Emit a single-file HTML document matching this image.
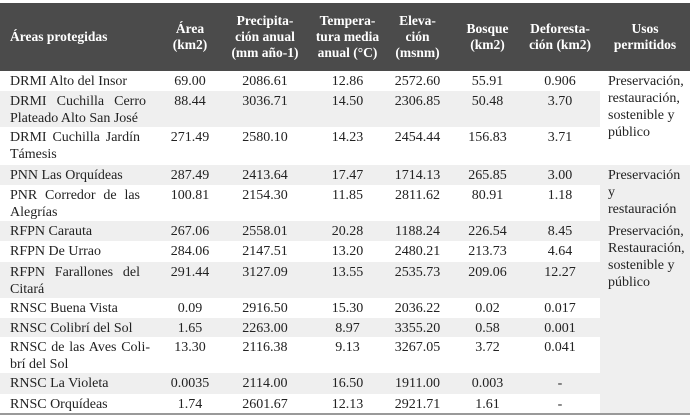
<!DOCTYPE html>
<html><head><meta charset="utf-8"><style>
body{margin:0;background:#fff;width:698px;height:416px;overflow:hidden;font-family:"Liberation Serif",serif;color:#222}
table{position:absolute;left:0;top:3px;border-collapse:collapse;table-layout:fixed;width:690px;font-size:14px;line-height:17px}
th{background:#4b4b4b;color:#fff;font-family:"Liberation Serif",serif;font-weight:bold;font-size:13.5px;line-height:16px;height:68px;padding:0;text-align:center;vertical-align:middle;white-space:nowrap}
th:first-child{text-align:left;padding-left:10px}
td{vertical-align:top;padding:2px 3px 0 3px;text-align:center;overflow:hidden}
td:first-child{text-align:left;padding-left:10px;padding-right:3px;white-space:nowrap}
.j{display:block;text-align:justify;text-align-last:justify;white-space:normal}
td.u{text-align:left;padding-left:8px;line-height:17px;white-space:nowrap}
.g td{background:#efefef}
.w td{background:#fff}
td.gu{background:#efefef !important}
td.wu{background:#fff !important}
tbody{border-bottom:2px solid #999}
</style></head><body>
<table>
<colgroup><col style="width:165px"><col style="width:50px"><col style="width:100px"><col style="width:65px"><col style="width:75px"><col style="width:65px"><col style="width:80px"><col style="width:90px"></colgroup>
<thead><tr><th>Áreas protegidas</th><th>Área<br>(km2)</th><th>Precipita-<br>ción anual<br>(mm año-1)</th><th>Tempera-<br>tura media<br>anual (°C)</th><th>Eleva-<br>ción<br>(msnm)</th><th>Bosque<br>(km2)</th><th>Deforesta-<br>ción (km2)</th><th>Usos<br>permitidos</th></tr></thead>
<tbody>
<tr class="w" style="height:20px"><td>DRMI Alto del Insor</td><td>69.00</td><td>2086.61</td><td>12.86</td><td>2572.60</td><td>55.91</td><td>0.906</td><td class="u wu" rowspan="3">Preservación,<br>restauración,<br>sostenible y<br>público</td></tr>
<tr class="g" style="height:34px"><td><span class="j" style="width:136px">DRMI Cuchilla Cerro</span>Plateado Alto San José</td><td>88.44</td><td>3036.71</td><td>14.50</td><td>2306.85</td><td>50.48</td><td>3.70</td></tr>
<tr class="w" style="height:38px"><td><span class="j" style="width:130px">DRMI Cuchilla Jardín</span>Támesis</td><td>271.49</td><td>2580.10</td><td>14.23</td><td>2454.44</td><td>156.83</td><td>3.71</td></tr>
<tr class="g" style="height:20px"><td>PNN Las Orquídeas</td><td>287.49</td><td>2413.64</td><td>17.47</td><td>1714.13</td><td>265.85</td><td>3.00</td><td class="u gu" rowspan="2">Preservación<br>y<br>restauración</td></tr>
<tr class="w" style="height:35px"><td><span class="j" style="width:130px">PNR Corredor de las</span>Alegrías</td><td>100.81</td><td>2154.30</td><td>11.85</td><td>2811.62</td><td>80.91</td><td>1.18</td></tr>
<tr class="g" style="height:20px"><td>RFPN Carauta</td><td>267.06</td><td>2558.01</td><td>20.28</td><td>1188.24</td><td>226.54</td><td>8.45</td><td class="u gu" rowspan="8">Preservación,<br>Restauración,<br>sostenible y<br>público</td></tr>
<tr class="w" style="height:21px"><td>RFPN De Urrao</td><td>284.06</td><td>2147.51</td><td>13.20</td><td>2480.21</td><td>213.73</td><td>4.64</td></tr>
<tr class="g" style="height:36px"><td><span class="j" style="width:130px">RFPN Farallones del</span>Citará</td><td>291.44</td><td>3127.09</td><td>13.55</td><td>2535.73</td><td>209.06</td><td>12.27</td></tr>
<tr class="w" style="height:20px"><td>RNSC Buena Vista</td><td>0.09</td><td>2916.50</td><td>15.30</td><td>2036.22</td><td>0.02</td><td>0.017</td></tr>
<tr class="g" style="height:19px"><td>RNSC Colibrí del Sol</td><td>1.65</td><td>2263.00</td><td>8.97</td><td>3355.20</td><td>0.58</td><td>0.001</td></tr>
<tr class="w" style="height:36px"><td><span class="j" style="width:140px">RNSC de las Aves Coli-</span>brí del Sol</td><td>13.30</td><td>2116.38</td><td>9.13</td><td>3267.05</td><td>3.72</td><td>0.041</td></tr>
<tr class="g" style="height:21px"><td>RNSC La Violeta</td><td>0.0035</td><td>2114.00</td><td>16.50</td><td>1911.00</td><td>0.003</td><td>-</td></tr>
<tr class="w" style="height:20px"><td>RNSC Orquídeas</td><td>1.74</td><td>2601.67</td><td>12.13</td><td>2921.71</td><td>1.61</td><td>-</td></tr>
</tbody></table>
</body></html>
